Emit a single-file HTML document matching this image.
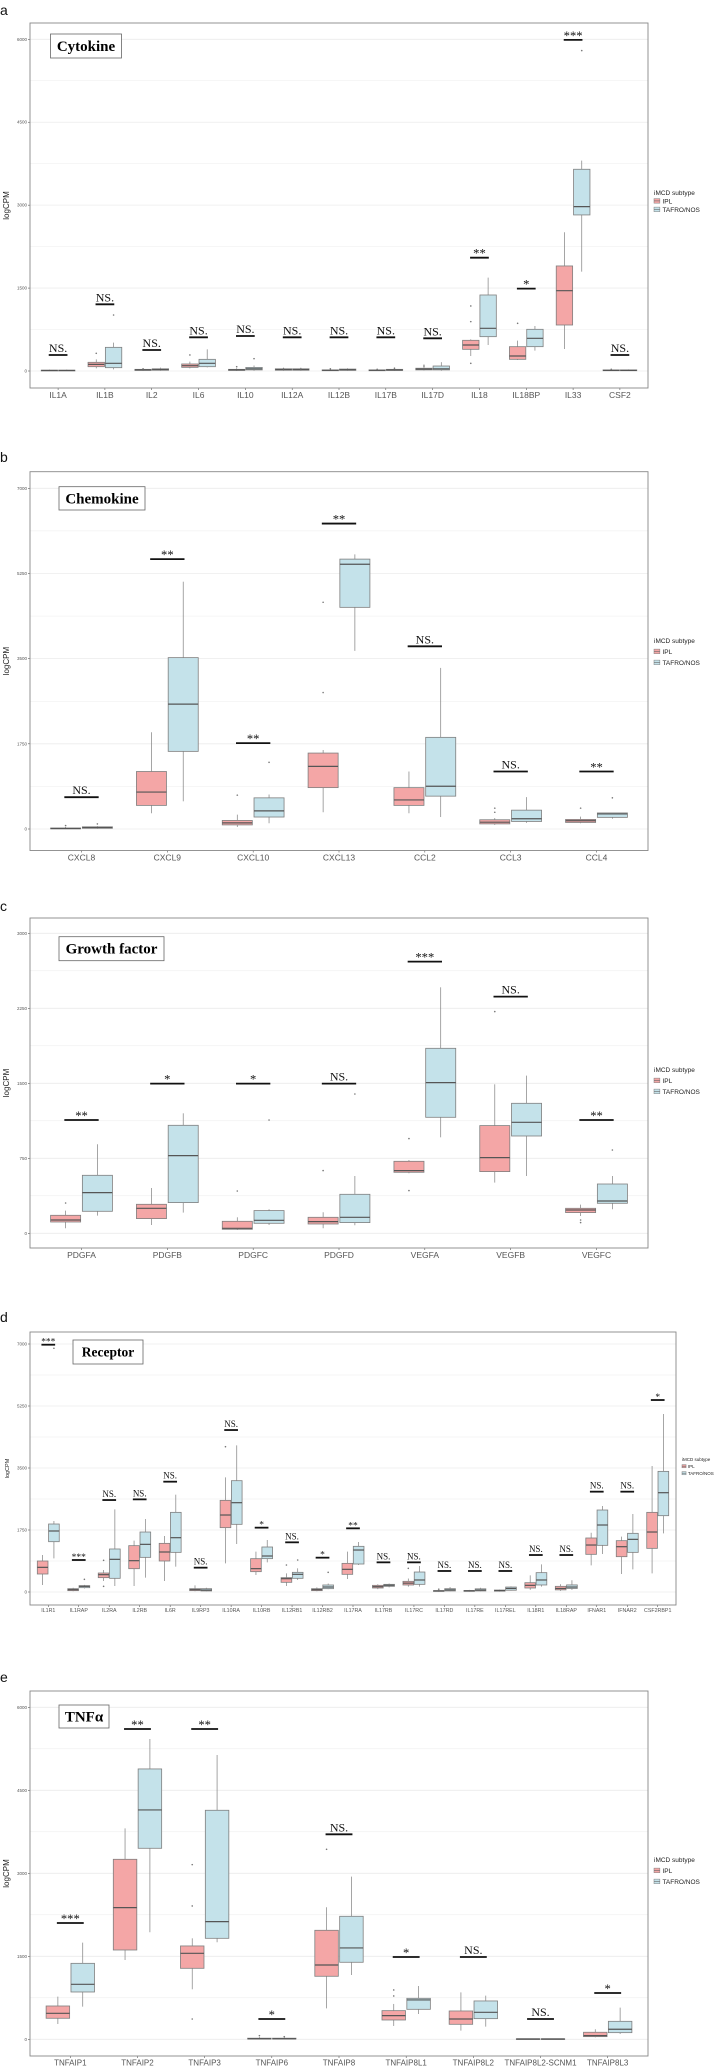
<!DOCTYPE html>
<html><head><meta charset="utf-8">
<style>
html,body{margin:0;padding:0;background:#fff;}
svg{display:block;}
text{font-family:"Liberation Sans",sans-serif;}
.serif{font-family:"Liberation Serif",serif;}
</style></head>
<body>
<svg id="fig" width="726" height="2072" viewBox="0 0 726 2072" xmlns="http://www.w3.org/2000/svg"></svg>
<script>
// ===== Panel a: Cytokine =====
const cytoCats = ["IL1A","IL1B","IL2","IL6","IL10","IL12A","IL12B","IL17B","IL17D","IL18","IL18BP","IL33","CSF2"];
const cytoIPL = [[0,5,10,15,25],[48,78,120,157,210],[5,10,20,30,50],[48,66,96,127,169],[0,10,20,30,50],[5,15,25,40,60],[0,5,12,20,35],[0,5,12,20,35],[10,20,35,50,120],[271,392,470,555,573],[199,211,271,440,549],[398,832,1453,1900,2509],[0,5,10,20,40]];
const cytoIPLOut = [[],[320],[40],[290],[78],[40],[40],[30],[90],[1176,893,139],[862],[],[30]];
const cytoTAF = [[0,5,10,15,25],[30,60,139,428,513],[5,15,25,40,60],[66,78,139,211,392],[5,20,40,65,100],[5,15,25,40,60],[5,12,22,35,50],[5,10,18,30,50],[5,20,40,90,160],[470,621,772,1375,1689],[368,440,591,754,814],[1797,2823,2973,3649,3806],[0,5,10,20,30]];
const cytoTAFOut = [[],[1013],[],[],[223],[40],[],[50],[],[],[],[5796],[]];
const cytoSig = ["NS.","NS.","NS.","NS.","NS.","NS.","NS.","NS.","NS.","**","*","***","NS."];
const cytoSigY = [290,1206,380,609,633,609,609,609,591,2050,1490,5989,290];
const cytoTicks = [0,1500,3000,4500,6000];

// ===== Panel b: Chemokine =====
const chemCats = ["CXCL8","CXCL9","CXCL10","CXCL13","CCL2","CCL3","CCL4"];
const chemIPL = [[0,5,10,20,40],[323,485,759,1181,1989],[42,84,126,176,295],[344,850,1286,1560,1623],[323,485,597,850,1181],[84,105,140,190,225],[119,134,169,197,253]];
const chemIPLOut = [[70],[],[696],[4659,2804],[],[429,344],[429]];
const chemTAF = [[5,15,30,45,60],[569,1595,2565,3521,5081],[119,246,372,640,710],[3661,4554,5439,5545,5643],[246,675,878,1883,3310],[126,155,211,387,654],[211,239,309,330,323]];
const chemTAFOut = [[105],[],[1370],[],[],[],[640]];
const chemSig = ["NS.","**","**","**","NS.","NS.","**"];
const chemSigY = [654,5545,1764,6275,3753,1181,1181];
const chemTicks = [0,1750,3500,5250,7000];

// ===== Panel c: Growth factor =====
const growCats = ["PDGFA","PDGFB","PDGFC","PDGFD","VEGFA","VEGFB","VEGFC"];
const growIPL = [[50,113,133,180,227],[83,147,250,290,453],[33,40,50,120,160],[50,93,117,160,210],[600,610,627,720,733],[507,617,757,1077,1490],[173,207,233,250,287]];
const growIPLOut = [[303],[],[423],[627],[947,427],[2217],[133,107]];
const growTAF = [[177,220,407,580,890],[207,307,777,1080,1200],[83,100,130,227,240],[80,107,160,390,573],[960,1160,1507,1850,2460],[573,973,1110,1300,1577],[240,300,323,493,573]];
const growTAFOut = [[],[],[1133],[1393],[],[],[833]];
const growSig = ["**","*","*","NS.","***","NS.","**"];
const growSigY = [1133,1497,1497,1497,2717,2367,1133];
const growTicks = [0,750,1500,2250,3000];

// ===== Panel d: Receptor =====
const recCats = ["IL1R1","IL1RAP","IL2RA","IL2RB","IL6R","IL9RP3","IL10RA","IL10RB","IL12RB1","IL12RB2","IL17RA","IL17RB","IL17RC","IL17RD","IL17RE","IL17REL","IL18R1","IL18RAP","IFNAR1","IFNAR2","CSF2RBP1"];
const recIPL = [[198,508,696,875,1044],[20,38,66,94,120],[310,405,489,536,621],[169,658,884,1308,1449],[310,875,1129,1373,1580],[20,38,66,94,188],[809,1816,2173,2587,3236],[480,574,659,941,1138],[169,273,376,405,527],[20,38,66,94,130],[367,499,640,809,1138],[80,113,150,188,220],[150,198,250,301,380],[10,20,30,40,60],[10,20,30,45,60],[10,25,40,55,70],[60,113,188,263,470],[30,60,100,160,220],[753,1063,1326,1524,1674],[508,997,1279,1449,1562],[527,1232,1693,2248,3556]];
const recIPLOut = [[],[],[894,160],[],[],[],[4101],[],[762],[],[],[],[668],[80],[],[],[],[],[],[],[]];
const recTAF = [[950,1420,1722,1919,2004],[100,122,160,179,200],[169,386,922,1214,2333],[405,978,1345,1693,2060],[715,1119,1533,2248,2747],[20,30,55,94,120],[1355,1910,2521,3142,4139],[837,941,1016,1270,1468],[339,386,499,555,668],[80,94,141,198,240],[762,790,1185,1289,1411],[130,160,190,216,240],[150,216,339,564,734],[20,30,60,94,140],[20,30,55,90,120],[40,50,100,140,160],[150,198,339,546,781],[60,100,140,200,330],[1072,1317,1891,2314,2427],[640,1119,1486,1656,2201],[1656,2154,2803,3405,5023]];
const recTAFOut = [[6880],[357],[],[],[],[],[],[],[903],[555],[],[],[],[],[],[],[],[],[],[],[]];
const recSig = ["***","***","NS.","NS.","NS.","NS.","NS.","*","NS.","*","**","NS.","NS.","NS.","NS.","NS.","NS.","NS.","NS.","NS.","*"];
const recSigY = [6980,903,2596,2615,3114,687,4572,1816,1402,969,1797,837,837,593,593,593,1044,1044,2832,2832,5419];
const recTicks = [0,1750,3500,5250,7000];

// ===== Panel e: TNFa =====
const tnfCats = ["TNFAIP1","TNFAIP2","TNFAIP3","TNFAIP6","TNFAIP8","TNFAIP8L1","TNFAIP8L2","TNFAIP8L2-SCNM1","TNFAIP8L3"];
const tnfIPL = [[277,380,470,602,771],[1434,1614,2380,3253,3813],[904,1283,1554,1687,1825],[0,5,10,20,40],[560,1139,1343,1970,2386],[241,349,428,518,639],[157,271,367,512,849],[0,3,6,10,15],[36,48,66,127,181]];
const tnfIPLOut = [[],[],[3157,2410,367],[66],[3434],[892,783],[],[],[]];
const tnfTAF = [[590,855,994,1373,1747],[1934,3452,4145,4886,5428],[1753,1825,2127,4139,5139],[0,5,10,20,40],[1163,1392,1651,2223,2940],[458,542,711,741,964],[229,373,488,693,789],[0,3,6,10,15],[96,120,181,325,572]];
const tnfTAFOut = [[],[],[],[48],[],[],[],[],[]];
const tnfSig = ["***","**","**","*","NS.","*","NS.","NS.","*"];
const tnfSigY = [2102,5608,5608,367,3705,1488,1488,367,837];
const tnfTicks = [0,1500,3000,4500,6000];

const NS = "http://www.w3.org/2000/svg";
const svg = document.getElementById('fig');
function mk(tag, attrs, parent){
  const e = document.createElementNS(NS, tag);
  for (const k in attrs) e.setAttribute(k, attrs[k]);
  (parent||svg).appendChild(e);
  return e;
}
const IPLFILL = "#f4a6a6", TAFFILL = "#c4e2ea", STROKE = "#7f7f7f";

function drawPanel(p){
  const g = mk('g', {});
  
  
  // panel letter
  const lt = mk('text', {x:0, y:p.letterY, 'font-size':14, fill:'#111'}, g);
  lt.textContent = p.letter;
  
  
  const ys = v => p.yZero - (v / p.tickMax) * (p.yZero - p.yTop);
  const n = p.cats.length;
  const step = (p.x1 - p.x0) / (n + 0.2);
  const xs = i => p.x0 + (0.6 + i) * step;
  // gridlines (major + minor)
  const tstep = p.ticks[1] - p.ticks[0];
  for (let v = -tstep/2; v <= p.tickMax + tstep/2 + 1; v += tstep/2) {
    const y = ys(v);
    if (y < p.y0 || y > p.y1) continue;
    const gl = mk('line', {x1:p.x0, x2:p.x1, y1:y, y2:y, stroke:'#ececec', 'stroke-width':(Math.round(v/tstep*2)%2===0)?0.8:0.5}, g);
    
    
  }
  // y ticks
  p.ticks.forEach(v => {
    const y = ys(v);
    const tk = mk('line', {x1:p.x0-2, x2:p.x0, y1:y, y2:y, stroke:'#333', 'stroke-width':0.5}, g);
    
    
    const tl = mk('text', {x:p.x0-3, y:y+1.5, 'font-size':4.5, fill:'#555', 'text-anchor':'end'}, g);
    tl.textContent = v;
    
    
  });
  // y title
  const yt = mk('text', {x:0, y:0, 'font-size':p.axisFont, fill:'#222', 'text-anchor':'middle', transform:'translate(' + (p.x0-21) + ',' + ((p.y0+p.y1)/2) + ') rotate(-90)'}, g);
  yt.textContent = 'logCPM';
  
  
  const bw = step * 0.35, off = step * 0.185;
  function box(i, d, outs, fill, side, label){
    const cx = xs(i) + side * off;
    const bg = mk('g', {}, g);
    
    
    mk('line', {x1:cx, x2:cx, y1:ys(d[4]), y2:ys(d[3]), stroke:STROKE, 'stroke-width':0.7}, bg);
    mk('line', {x1:cx, x2:cx, y1:ys(d[1]), y2:ys(d[0]), stroke:STROKE, 'stroke-width':0.7}, bg);
    const top = ys(d[3]), bot = ys(d[1]);
    mk('rect', {x:cx-bw/2, y:top, width:bw, height:Math.max(0.8, bot-top), fill:fill, stroke:STROKE, 'stroke-width':0.8}, bg);
    mk('line', {x1:cx-bw/2, x2:cx+bw/2, y1:ys(d[2]), y2:ys(d[2]), stroke:'#555', 'stroke-width':1.2}, bg);
    outs.forEach(v => {
      const o = mk('circle', {cx:cx, cy:ys(v), r:0.8, fill:'#777'}, bg);
      
      
    });
  }
  p.cats.forEach((c, i) => {
    box(i, p.ipl[i], p.iplOut[i], IPLFILL, -1, 'ipl');
    box(i, p.taf[i], p.tafOut[i], TAFFILL, 1, 'tafro');
    // significance
    const sy = ys(p.sigY[i]);
    const sw = step * p.sigW;
    const sb = mk('line', {x1:xs(i)-sw/2, x2:xs(i)+sw/2, y1:sy, y2:sy, stroke:'#111', 'stroke-width':1.8}, g);
    
    
    const st = mk('text', {x:xs(i), y:sy - (p.sig[i]==='NS.' ? 3 : 0), 'font-size':p.sig[i]==='NS.'?p.sigFont:p.sigFont*1.05, fill:'#111', 'text-anchor':'middle', class:'serif'}, g);
    st.textContent = p.sig[i];
    
    
    // x ticks
    mk('line', {x1:xs(i), x2:xs(i), y1:p.y1, y2:p.y1+2, stroke:'#333', 'stroke-width':0.5}, g);
    const xl = mk('text', {x:xs(i), y:p.y1 + p.labelDy, 'font-size':p.catFont, fill:'#555', 'text-anchor':'middle'}, g);
    xl.textContent = c;
    
    
  });
  // panel border
  const br = mk('rect', {x:p.x0, y:p.y0, width:p.x1-p.x0, height:p.y1-p.y0, fill:'none', stroke:'#888', 'stroke-width':0.9}, g);
  
  
  // title box
  const tb = mk('g', {}, g);
  
  
  mk('rect', {x:p.tb[0], y:p.tb[1], width:p.tb[2]-p.tb[0], height:p.tb[3]-p.tb[1], fill:'#fff', stroke:'#666', 'stroke-width':0.8}, tb);
  const tt = mk('text', {x:(p.tb[0]+p.tb[2])/2, y:(p.tb[1]+p.tb[3])/2 + p.titleFont*0.33, 'font-size':p.titleFont, 'font-weight':'bold', fill:'#000', 'text-anchor':'middle', class:'serif'}, tb);
  tt.textContent = p.title;
  // legend
  const lg = mk('g', {}, g);
  
  
  const lx = p.x1 + 6;
  const ltt = mk('text', {x:lx, y:p.legY, 'font-size':p.legFont, fill:'#222'}, lg);
  ltt.textContent = 'iMCD subtype';
  [['IPL', IPLFILL], ['TAFRO/NOS', TAFFILL]].forEach((e, k) => {
    const yy = p.legY + p.legGap * (k + 1);
    const le = mk('g', {}, lg);
    
    
    mk('rect', {x:lx, y:yy-p.legFont*0.75, width:p.legFont*0.9, height:p.legFont*0.7, fill:e[1], stroke:STROKE, 'stroke-width':0.5}, le);
    mk('line', {x1:lx, x2:lx+p.legFont*0.9, y1:yy-p.legFont*0.4, y2:yy-p.legFont*0.4, stroke:'#666', 'stroke-width':0.6}, le);
    const et = mk('text', {x:lx + p.legFont*1.3, y:yy, 'font-size':p.legFont, fill:'#222'}, le);
    et.textContent = e[0];
  });
}

drawPanel({name:'cytokine', letter:'a', letterY:15, title:'Cytokine', cats:cytoCats, ipl:cytoIPL, iplOut:cytoIPLOut, taf:cytoTAF, tafOut:cytoTAFOut, sig:cytoSig, sigY:cytoSigY, ticks:cytoTicks, tickMax:6000,
  x0:30, x1:648, y0:23, y1:388, yZero:371, yTop:39.3, tb:[50.5,34,121.5,58], titleFont:15, sigFont:12, sigW:0.4, catFont:8.5, labelDy:10, axisFont:8, legY:195, legGap:8.5, legFont:6.5});
drawPanel({name:'chemokine', letter:'b', letterY:462, title:'Chemokine', cats:chemCats, ipl:chemIPL, iplOut:chemIPLOut, taf:chemTAF, tafOut:chemTAFOut, sig:chemSig, sigY:chemSigY, ticks:chemTicks, tickMax:7000,
  x0:30, x1:648, y0:471.7, y1:850.5, yZero:829, yTop:488.3, tb:[59,486.7,145,510], titleFont:15, sigFont:12, sigW:0.4, catFont:8.5, labelDy:10, axisFont:8, legY:643, legGap:11, legFont:6.5});
drawPanel({name:'growth-factor', letter:'c', letterY:911, title:'Growth factor', cats:growCats, ipl:growIPL, iplOut:growIPLOut, taf:growTAF, tafOut:growTAFOut, sig:growSig, sigY:growSigY, ticks:growTicks, tickMax:3000,
  x0:30, x1:648, y0:918, y1:1248, yZero:1233.3, yTop:933.3, tb:[59,936.7,164,960.7], titleFont:15, sigFont:12, sigW:0.4, catFont:8.5, labelDy:10, axisFont:8, legY:1072, legGap:11, legFont:6.5});
drawPanel({name:'receptor', letter:'d', letterY:1322, title:'Receptor', cats:recCats, ipl:recIPL, iplOut:recIPLOut, taf:recTAF, tafOut:recTAFOut, sig:recSig, sigY:recSigY, ticks:recTicks, tickMax:7000,
  x0:30, x1:676, y0:1332, y1:1605, yZero:1592, yTop:1344, tb:[73,1340,143,1364], titleFont:13.5, sigFont:9, sigW:0.45, catFont:5.3, labelDy:7, axisFont:5.5, legY:1461, legGap:7, legFont:4.5});
drawPanel({name:'tnfa', letter:'e', letterY:1682, title:'TNFα', cats:tnfCats, ipl:tnfIPL, iplOut:tnfIPLOut, taf:tnfTAF, tafOut:tnfTAFOut, sig:tnfSig, sigY:tnfSigY, ticks:tnfTicks, tickMax:6000,
  x0:30, x1:648, y0:1691, y1:2056, yZero:2039.3, yTop:1707.3, tb:[59,1705,109,1728], titleFont:15, sigFont:12, sigW:0.4, catFont:8, labelDy:9.5, axisFont:8, legY:1862, legGap:11, legFont:6.5});
</script>
</body></html>
